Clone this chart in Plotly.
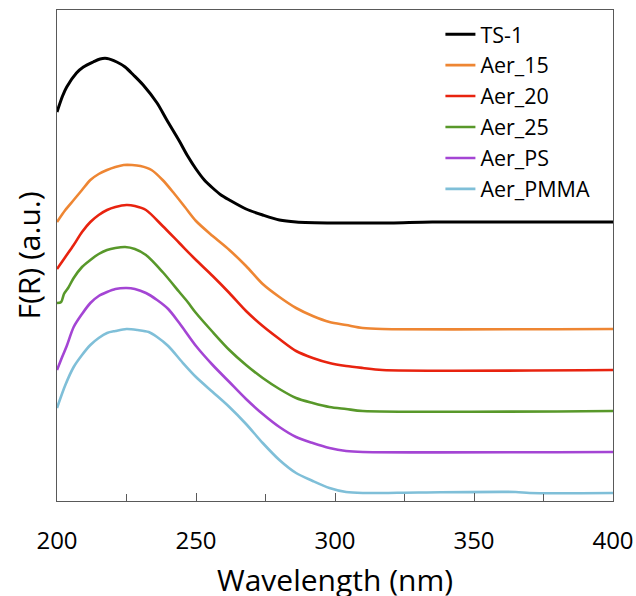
import plotly.graph_objects as go

# Wavelength (nm) / F(R) (a.u., stacked offsets as drawn)
wl_ts1 = [200, 202, 203.5, 207, 209.5, 213, 215.5, 218, 221.5, 224.5, 227.5, 231, 236, 239.5, 244, 247, 250, 253, 256, 259, 262, 268, 274, 280, 286, 300, 320, 335, 400]
fr_ts1 = [3.89, 4.05, 4.14, 4.28, 4.34, 4.39, 4.42, 4.425, 4.39, 4.34, 4.26, 4.16, 3.98, 3.81, 3.60, 3.45, 3.32, 3.21, 3.13, 3.06, 3.01, 2.92, 2.86, 2.81, 2.79, 2.78, 2.78, 2.79, 2.79]

wl_a15 = [200, 203, 206, 209, 212, 215, 218, 221, 224, 227, 230, 234, 238, 242, 246, 250, 256, 262, 268, 274, 280, 286, 292, 298, 304, 310, 317, 400]
fr_a15 = [2.79, 2.91, 3.01, 3.11, 3.21, 3.27, 3.31, 3.34, 3.36, 3.36, 3.35, 3.31, 3.21, 3.08, 2.94, 2.80, 2.65, 2.51, 2.35, 2.17, 2.04, 1.93, 1.85, 1.79, 1.76, 1.73, 1.72, 1.72]

wl_a20 = [200, 203, 206, 209, 212, 215, 218, 221, 225, 228, 232, 238, 244, 250, 256, 262, 268, 274, 280, 286, 292, 298, 304, 310, 317, 400]
fr_a20 = [2.32, 2.44, 2.56, 2.69, 2.79, 2.86, 2.91, 2.94, 2.96, 2.95, 2.91, 2.75, 2.58, 2.41, 2.25, 2.08, 1.90, 1.75, 1.62, 1.50, 1.43, 1.38, 1.35, 1.33, 1.31, 1.31]

wl_a25 = [200, 201.5, 202.5, 204, 206, 209, 212, 215, 218, 221, 224.5, 228, 232, 238, 244, 247, 250, 256, 262, 268, 274, 280, 286, 292, 298, 304, 310, 400]
fr_a25 = [1.98, 1.99, 2.07, 2.13, 2.23, 2.34, 2.41, 2.47, 2.51, 2.53, 2.54, 2.52, 2.46, 2.29, 2.09, 1.99, 1.88, 1.69, 1.51, 1.36, 1.23, 1.12, 1.03, 0.98, 0.94, 0.92, 0.90, 0.90]

wl_ps = [200, 202, 203.5, 206, 209, 212, 215, 218, 221, 225, 228, 232, 236, 240, 244, 250, 256, 262, 268, 274, 280, 286, 292, 298, 304, 310, 400]
fr_ps = [1.31, 1.45, 1.55, 1.74, 1.87, 1.98, 2.05, 2.09, 2.12, 2.13, 2.12, 2.08, 2.01, 1.92, 1.78, 1.55, 1.36, 1.19, 1.02, 0.87, 0.74, 0.64, 0.58, 0.53, 0.50, 0.49, 0.49]

wl_pmma = [200, 203, 206, 209, 212, 215, 218, 221, 225, 229, 233, 236, 240, 245, 250, 256, 262, 268, 274, 280, 286, 292, 298, 304, 310, 330, 365, 370, 400]
fr_pmma = [0.93, 1.16, 1.34, 1.46, 1.56, 1.63, 1.68, 1.70, 1.72, 1.71, 1.69, 1.64, 1.55, 1.39, 1.24, 1.09, 0.94, 0.77, 0.58, 0.41, 0.28, 0.20, 0.13, 0.09, 0.08, 0.085, 0.09, 0.08, 0.08]

names = ["TS-1", "Aer_15", "Aer_20", "Aer_25", "Aer_PS", "Aer_PMMA"]
colors = ["#000000", "#EE8633", "#E8230F", "#58982A", "#A445D4", "#7FBFD8"]
xs = [wl_ts1, wl_a15, wl_a20, wl_a25, wl_ps, wl_pmma]
ys = [fr_ts1, fr_a15, fr_a20, fr_a25, fr_ps, fr_pmma]
x_ticks = [200, 250, 300, 350, 400]

fig = go.Figure()
for i, (n, c, x, y) in enumerate(zip(names, colors, xs, ys)):
    fig.add_trace(go.Scatter(
        x=x, y=y, name=n, mode="lines",
        line=dict(color=c, width=3 if i == 0 else 2.6, shape="spline", smoothing=0.8),
        legendgroup=n,
    ))

axis_color = "#595959"
fig.update_layout(
    width=636, height=596,
    margin=dict(l=57, r=23, t=10, b=95),
    paper_bgcolor="white", plot_bgcolor="white",
    font=dict(family="Open Sans", color="#000000"),
    showlegend=True,
    legend=dict(
        x=0.6896, y=0.9925, xanchor="left", yanchor="top",
        font=dict(size=21.5, family="Open Sans", color="#000000"),
        bgcolor="rgba(0,0,0,0)", tracegroupgap=0,
    ),
    xaxis=dict(
        range=[200, 400], tickvals=x_ticks, ticktext=[str(t) for t in x_ticks],
        ticks="inside", ticklen=8, tickwidth=1, tickcolor=axis_color,
        minor=dict(tickvals=[225, 275, 325, 375], ticks="inside", ticklen=7, tickcolor=axis_color, tickwidth=1),
        showline=True, linecolor=axis_color, linewidth=1, mirror=True,
        showgrid=False, zeroline=False, automargin=False,
        tickfont=dict(size=24, family="Open Sans", color="#000000"),
        ticklabelstandoff=18,
    ),
    yaxis=dict(
        range=[0, 4.91], showticklabels=False, ticks="",
        showline=True, linecolor=axis_color, linewidth=1, mirror=True,
        showgrid=False, zeroline=False, automargin=False,
    ),
    annotations=[
        dict(text="Wavelength (nm)", xref="paper", yref="paper", x=0.5, y=(501 - 579) / 491,
             xanchor="center", yanchor="middle", showarrow=False,
             font=dict(size=30, family="Open Sans", color="#000000")),
        dict(text="F(R) (a.u.)", xref="paper", yref="paper", x=(28 - 57) / 556, y=0.5,
             xanchor="center", yanchor="middle", showarrow=False, textangle=-90,
             font=dict(size=30, family="Open Sans", color="#000000")),
    ],
)

fig.write_html("out.html")
